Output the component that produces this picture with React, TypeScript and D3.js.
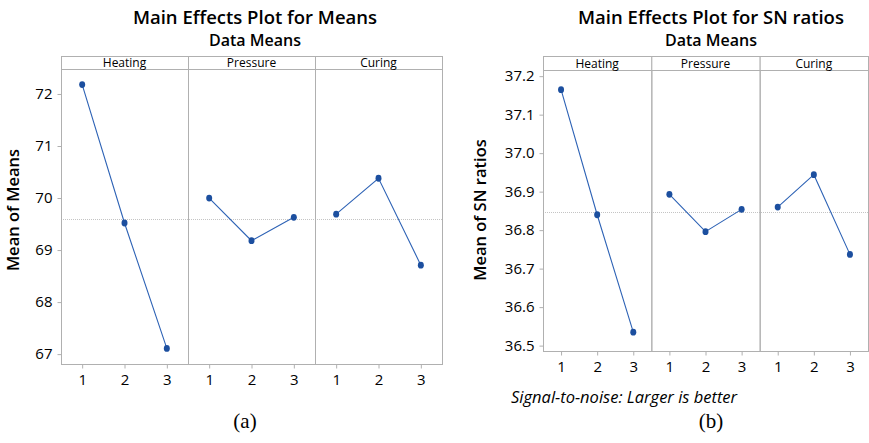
import React, { useRef, useEffect } from 'react';
import { select, scaleLinear, scaleBand, axisLeft, axisBottom, line, format, mean } from 'd3';

const factors = ['Heating', 'Pressure', 'Curing'];
const levels = [1, 2, 3];

// Main effects for means
const meansHeating = [72.18, 69.52, 67.11];
const meansPressure = [70.0, 69.18, 69.63];
const meansCuring = [69.69, 70.38, 68.71];
const meansTicks = [67, 68, 69, 70, 71, 72];

// Main effects for SN ratios
const snHeating = [37.165, 36.84, 36.535];
const snPressure = [36.893, 36.796, 36.854];
const snCuring = [36.86, 36.944, 36.737];
const snTicks = [36.5, 36.6, 36.7, 36.8, 36.9, 37.0, 37.1, 37.2];

const FONT = "'Open Sans', 'Noto Sans', sans-serif";
const FRAME = '#b0b0b0';
const LINE = '#2d62b5';
const DOT = '#1c4f9f';

function drawPanel(g, cfg) {
  const { x0, x1, top, headerH, bottom, yDomain, ticks, fmt, series } = cfg;
  const band = scaleBand().domain(factors).range([x0, x1]);
  const bw = band.bandwidth();
  const y = scaleLinear().domain(yDomain).range([bottom, top + headerH]);
  const lx = scaleLinear().domain([0.5, 3.5]).range([0, bw]);
  const grand = mean(series.flat());

  // reference line at the grand mean
  g.append('line')
    .attr('x1', x0).attr('x2', x1)
    .attr('y1', Math.round(y(grand)) + 0.5).attr('y2', Math.round(y(grand)) + 0.5)
    .attr('stroke', '#c4c4c4').attr('stroke-width', 1).attr('stroke-dasharray', '1,1');

  factors.forEach((f, i) => {
    const px = band(f);
    g.append('rect')
      .attr('x', px + 0.5).attr('y', top + 0.5)
      .attr('width', bw).attr('height', headerH)
      .attr('fill', 'white').attr('stroke', FRAME);
    g.append('rect')
      .attr('x', px + 0.5).attr('y', top + headerH + 0.5)
      .attr('width', bw).attr('height', bottom - top - headerH)
      .attr('fill', 'none').attr('stroke', FRAME);
    g.append('text')
      .attr('x', px + bw / 2).attr('y', top + headerH - 2)
      .attr('text-anchor', 'middle')
      .style('font-family', FONT).style('font-size', '12px')
      .attr('fill', '#000')
      .text(f);

    const xa = g.append('g')
      .attr('transform', `translate(${px},${bottom + 0.5})`)
      .call(axisBottom(lx).tickValues(levels).tickSize(4).tickPadding(6).tickFormat(format('d')));
    xa.select('.domain').remove();
    xa.selectAll('line').attr('stroke', FRAME);
    xa.selectAll('text').style('font-family', FONT).style('font-size', '15px').attr('fill', '#000');

    const pts = series[i].map((v, j) => [px + lx(levels[j]), y(v)]);
    g.append('path')
      .attr('d', line()(pts))
      .attr('fill', 'none').attr('stroke', LINE).attr('stroke-width', 1.1);
    g.selectAll(null).data(pts).join('ellipse')
      .attr('cx', d => d[0]).attr('cy', d => d[1])
      .attr('rx', 3).attr('ry', 3.4).attr('fill', DOT);
  });

  const ya = g.append('g')
    .attr('transform', `translate(${x0 + 0.5},0)`)
    .call(axisLeft(y).tickValues(ticks).tickSize(4).tickPadding(5).tickFormat(fmt));
  ya.select('.domain').remove();
  ya.selectAll('line').attr('stroke', FRAME);
  ya.selectAll('text').style('font-family', FONT).style('font-size', '15px').attr('fill', '#000');
}

export default function App() {
  const svgRef = useRef(null);

  useEffect(() => {
    const svg = select(svgRef.current);
    svg.selectAll('*').remove();

    const left = svg.append('g');
    drawPanel(left, {
      x0: 61, x1: 442, top: 56, headerH: 13, bottom: 364,
      yDomain: [66.81, 72.48], ticks: meansTicks, fmt: format('d'),
      series: [meansHeating, meansPressure, meansCuring],
    });
    const right = svg.append('g');
    drawPanel(right, {
      x0: 543, x1: 868, top: 56, headerH: 14, bottom: 351,
      yDomain: [36.486, 37.216], ticks: snTicks, fmt: format('.1f'),
      series: [snHeating, snPressure, snCuring],
    });

    const txt = (x, y, s, size, extra = {}) => {
      const t = svg.append('text')
        .attr('x', x).attr('y', y).attr('text-anchor', extra.anchor || 'middle')
        .style('font-family', extra.family || FONT).style('font-size', size + 'px')
        .style('font-weight', extra.weight || 'normal')
        .style('font-style', extra.italic ? 'italic' : 'normal')
        .attr('fill', '#000').text(s);
      if (extra.rotate) t.attr('transform', `rotate(-90,${x},${y})`);
      return t;
    };

    txt(255, 23.5, 'Main Effects Plot for Means', 18.5, { weight: 600 });
    txt(255, 45.5, 'Data Means', 16, { weight: 600 });
    txt(711, 23.5, 'Main Effects Plot for SN ratios', 18.5, { weight: 600 });
    txt(711, 45.5, 'Data Means', 16, { weight: 600 });

    txt(19, 210, 'Mean of Means', 16.5, { rotate: true, weight: 600 });
    txt(486, 210, 'Mean of SN ratios', 16.5, { rotate: true, weight: 600 });

    txt(511, 403, 'Signal-to-noise: Larger is better', 16.5, { anchor: 'start', italic: true });

    txt(245, 428, '(a)', 21, { family: "'Liberation Serif', 'DejaVu Serif', serif" });
    txt(711, 428, '(b)', 21, { family: "'Liberation Serif', 'DejaVu Serif', serif" });
  }, []);

  return (
    <svg
      ref={svgRef}
      width={869}
      height={443}
      style={{ position: 'absolute', left: 0, top: 0, background: 'white' }}
    />
  );
}
